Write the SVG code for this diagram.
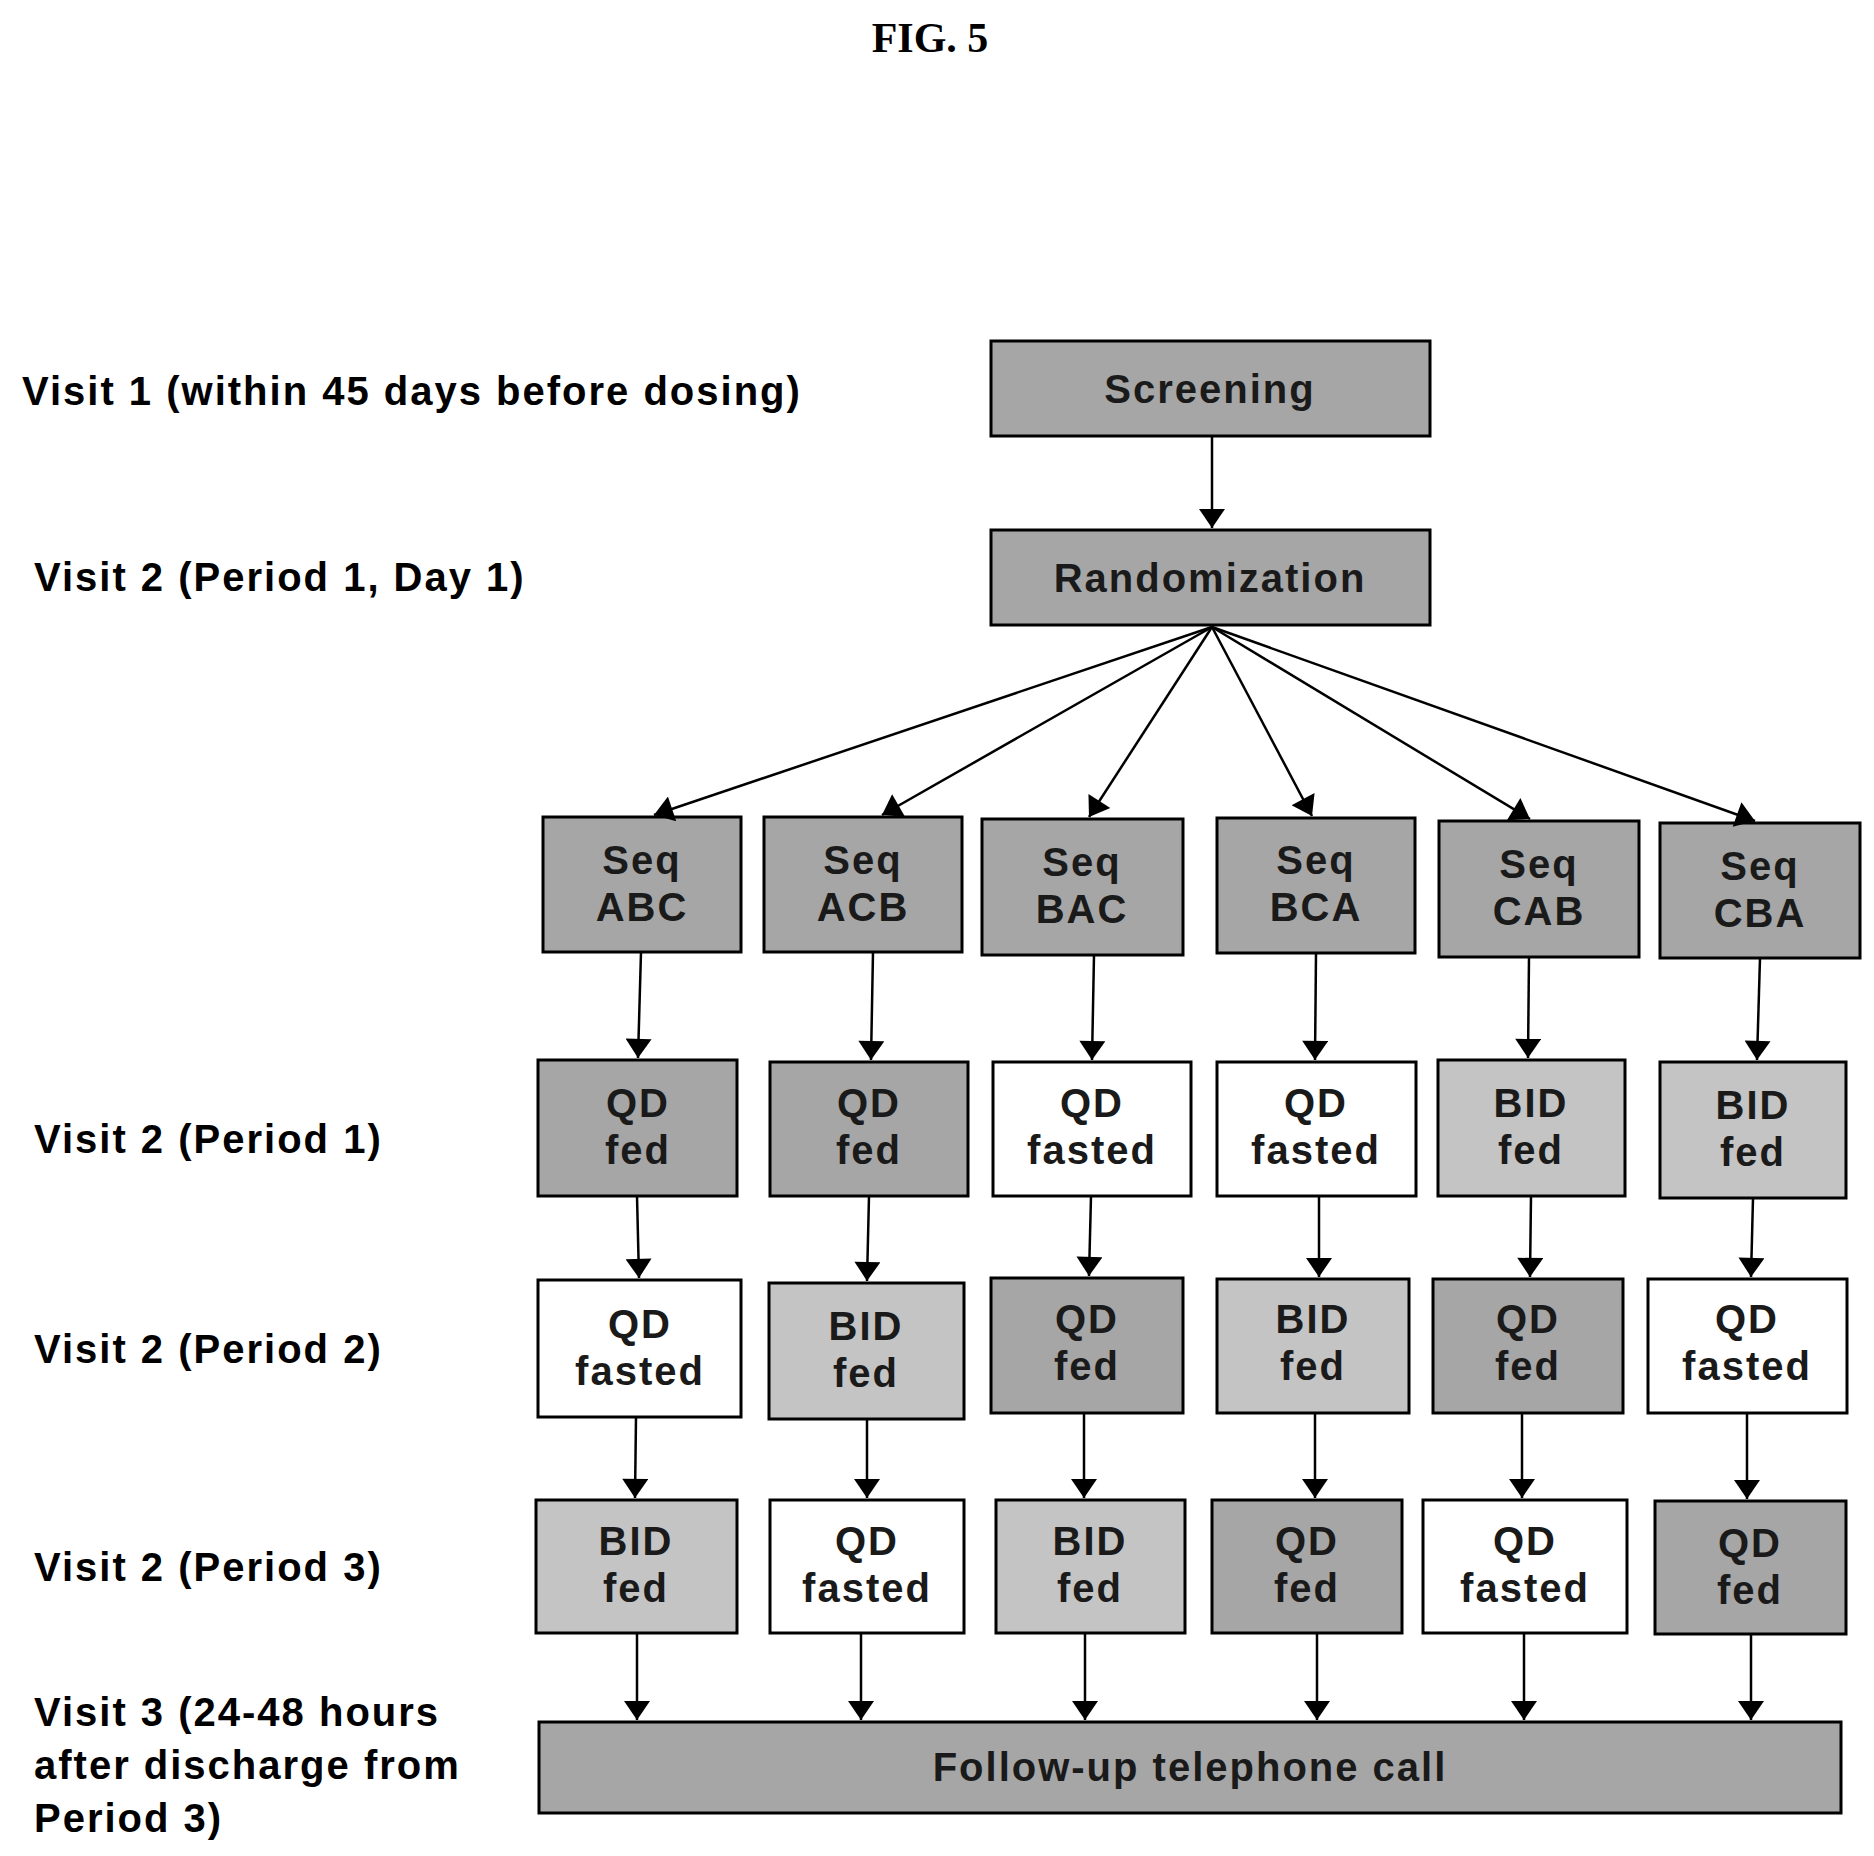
<svg xmlns="http://www.w3.org/2000/svg" width="1874" height="1856" viewBox="0 0 1874 1856">
<style>
.t{font-family:"Liberation Sans",Arial,sans-serif;font-weight:bold;font-size:40px;letter-spacing:2px;fill:#000}
.c{text-anchor:middle;fill:#1a1a1a}
.d{fill:#a6a6a6;stroke:#000;stroke-width:3}
.l{fill:#c4c4c4;stroke:#000;stroke-width:3}
.w{fill:#fff;stroke:#000;stroke-width:3}
</style>
<defs>
<marker id="ah2" viewBox="0 0 22 30" refX="22" refY="15" markerWidth="32" markerHeight="26" orient="auto" markerUnits="userSpaceOnUse"><path d="M0,0 L22,15 L0,30 z" fill="#000"/></marker></defs>
<text class="t" x="930" y="52" text-anchor="middle" style="font-family:'Liberation Serif',serif;font-size:42px;letter-spacing:0">FIG. 5</text>
<g id="labels">
<text class="t" x="22" y="405">Visit 1 (within 45 days before dosing)</text>
<text class="t" x="34" y="591">Visit 2 (Period 1, Day 1)</text>
<text class="t" x="34" y="1153">Visit 2 (Period 1)</text>
<text class="t" x="34" y="1363">Visit 2 (Period 2)</text>
<text class="t" x="34" y="1581">Visit 2 (Period 3)</text>
<text class="t" x="34" y="1726">Visit 3 (24-48 hours</text>
<text class="t" x="34" y="1779">after discharge from</text>
<text class="t" x="34" y="1832">Period 3)</text>
</g>
<g id="screening"><rect class="d" x="991" y="341" width="439" height="95"/><text class="t c" x="1210" y="403">Screening</text></g>
<g id="randomization"><rect class="d" x="991" y="530" width="439" height="95"/><text class="t c" x="1210" y="592">Randomization</text></g>
<g id="seq">
<g id="seqABC"><rect class="d" x="543" y="817" width="198" height="135"/><text class="t c" x="642" y="874">Seq</text><text class="t c" x="642" y="921">ABC</text></g>
<g id="seqACB"><rect class="d" x="764" y="817" width="198" height="135"/><text class="t c" x="863" y="874">Seq</text><text class="t c" x="863" y="921">ACB</text></g>
<g id="seqBAC"><rect class="d" x="982" y="819" width="201" height="136"/><text class="t c" x="1082" y="876">Seq</text><text class="t c" x="1082" y="923">BAC</text></g>
<g id="seqBCA"><rect class="d" x="1217" y="818" width="198" height="135"/><text class="t c" x="1316" y="874">Seq</text><text class="t c" x="1316" y="921">BCA</text></g>
<g id="seqCAB"><rect class="d" x="1439" y="821" width="200" height="136"/><text class="t c" x="1539" y="878">Seq</text><text class="t c" x="1539" y="925">CAB</text></g>
<g id="seqCBA"><rect class="d" x="1660" y="823" width="200" height="135"/><text class="t c" x="1760" y="880">Seq</text><text class="t c" x="1760" y="927">CBA</text></g>
</g>
<g id="p1">
<g id="p1a"><rect class="d" x="538" y="1060" width="199" height="136"/><text class="t c" x="638" y="1117">QD</text><text class="t c" x="638" y="1164">fed</text></g>
<g id="p1b"><rect class="d" x="770" y="1062" width="198" height="134"/><text class="t c" x="869" y="1117">QD</text><text class="t c" x="869" y="1164">fed</text></g>
<g id="p1c"><rect class="w" x="993" y="1062" width="198" height="134"/><text class="t c" x="1092" y="1117">QD</text><text class="t c" x="1092" y="1164">fasted</text></g>
<g id="p1d"><rect class="w" x="1217" y="1062" width="199" height="134"/><text class="t c" x="1316" y="1117">QD</text><text class="t c" x="1316" y="1164">fasted</text></g>
<g id="p1e"><rect class="l" x="1438" y="1060" width="187" height="136"/><text class="t c" x="1531" y="1117">BID</text><text class="t c" x="1531" y="1164">fed</text></g>
<g id="p1f"><rect class="l" x="1660" y="1062" width="186" height="136"/><text class="t c" x="1753" y="1119">BID</text><text class="t c" x="1753" y="1166">fed</text></g>
</g>
<g id="p2">
<g id="p2a"><rect class="w" x="538" y="1280" width="203" height="137"/><text class="t c" x="640" y="1338">QD</text><text class="t c" x="640" y="1385">fasted</text></g>
<g id="p2b"><rect class="l" x="769" y="1283" width="195" height="136"/><text class="t c" x="866" y="1340">BID</text><text class="t c" x="866" y="1387">fed</text></g>
<g id="p2c"><rect class="d" x="991" y="1278" width="192" height="135"/><text class="t c" x="1087" y="1333">QD</text><text class="t c" x="1087" y="1380">fed</text></g>
<g id="p2d"><rect class="l" x="1217" y="1279" width="192" height="134"/><text class="t c" x="1313" y="1333">BID</text><text class="t c" x="1313" y="1380">fed</text></g>
<g id="p2e"><rect class="d" x="1433" y="1279" width="190" height="134"/><text class="t c" x="1528" y="1333">QD</text><text class="t c" x="1528" y="1380">fed</text></g>
<g id="p2f"><rect class="w" x="1648" y="1279" width="199" height="134"/><text class="t c" x="1747" y="1333">QD</text><text class="t c" x="1747" y="1380">fasted</text></g>
</g>
<g id="p3">
<g id="p3a"><rect class="l" x="536" y="1500" width="201" height="133"/><text class="t c" x="636" y="1555">BID</text><text class="t c" x="636" y="1602">fed</text></g>
<g id="p3b"><rect class="w" x="770" y="1500" width="194" height="133"/><text class="t c" x="867" y="1555">QD</text><text class="t c" x="867" y="1602">fasted</text></g>
<g id="p3c"><rect class="l" x="996" y="1500" width="189" height="133"/><text class="t c" x="1090" y="1555">BID</text><text class="t c" x="1090" y="1602">fed</text></g>
<g id="p3d"><rect class="d" x="1212" y="1500" width="190" height="133"/><text class="t c" x="1307" y="1555">QD</text><text class="t c" x="1307" y="1602">fed</text></g>
<g id="p3e"><rect class="w" x="1423" y="1500" width="204" height="133"/><text class="t c" x="1525" y="1555">QD</text><text class="t c" x="1525" y="1602">fasted</text></g>
<g id="p3f"><rect class="d" x="1655" y="1501" width="191" height="133"/><text class="t c" x="1750" y="1557">QD</text><text class="t c" x="1750" y="1604">fed</text></g>
</g>
<g id="followup"><rect class="d" x="539" y="1722" width="1302" height="91"/><text class="t c" x="1190" y="1781">Follow-up telephone call</text></g>
<g id="connectors" stroke="#000" stroke-width="2.5" fill="none">
<g style="marker-end:url(#ah2)">
<line x1="1212" y1="436" x2="1212" y2="528"/>
<line x1="1212" y1="627" x2="654" y2="815"/>
<line x1="1212" y1="627" x2="882" y2="815"/>
<line x1="1212" y1="627" x2="1089" y2="817"/>
<line x1="1212" y1="627" x2="1312" y2="816"/>
<line x1="1212" y1="627" x2="1530" y2="819"/>
<line x1="1212" y1="627" x2="1755" y2="821"/>
<line x1="641" y1="952" x2="638" y2="1058"/>
<line x1="873" y1="952" x2="871" y2="1060"/>
<line x1="1094" y1="955" x2="1092" y2="1060"/>
<line x1="1316" y1="953" x2="1315" y2="1060"/>
<line x1="1529" y1="957" x2="1528" y2="1058"/>
<line x1="1760" y1="958" x2="1757" y2="1060"/>
<line x1="637" y1="1196" x2="639" y2="1278"/>
<line x1="869" y1="1196" x2="867" y2="1281"/>
<line x1="1091" y1="1196" x2="1089" y2="1276"/>
<line x1="1319" y1="1196" x2="1319" y2="1277"/>
<line x1="1531" y1="1196" x2="1530" y2="1277"/>
<line x1="1753" y1="1198" x2="1751" y2="1277"/>
<line x1="636" y1="1417" x2="635" y2="1498"/>
<line x1="867" y1="1419" x2="867" y2="1498"/>
<line x1="1084" y1="1413" x2="1084" y2="1498"/>
<line x1="1315" y1="1413" x2="1315" y2="1498"/>
<line x1="1522" y1="1413" x2="1522" y2="1498"/>
<line x1="1747" y1="1413" x2="1747" y2="1499"/>
<line x1="637" y1="1633" x2="637" y2="1720"/>
<line x1="861" y1="1633" x2="861" y2="1720"/>
<line x1="1085" y1="1633" x2="1085" y2="1720"/>
<line x1="1317" y1="1633" x2="1317" y2="1720"/>
<line x1="1524" y1="1633" x2="1524" y2="1720"/>
<line x1="1751" y1="1634" x2="1751" y2="1720"/>
</g>
</g>
</svg>
